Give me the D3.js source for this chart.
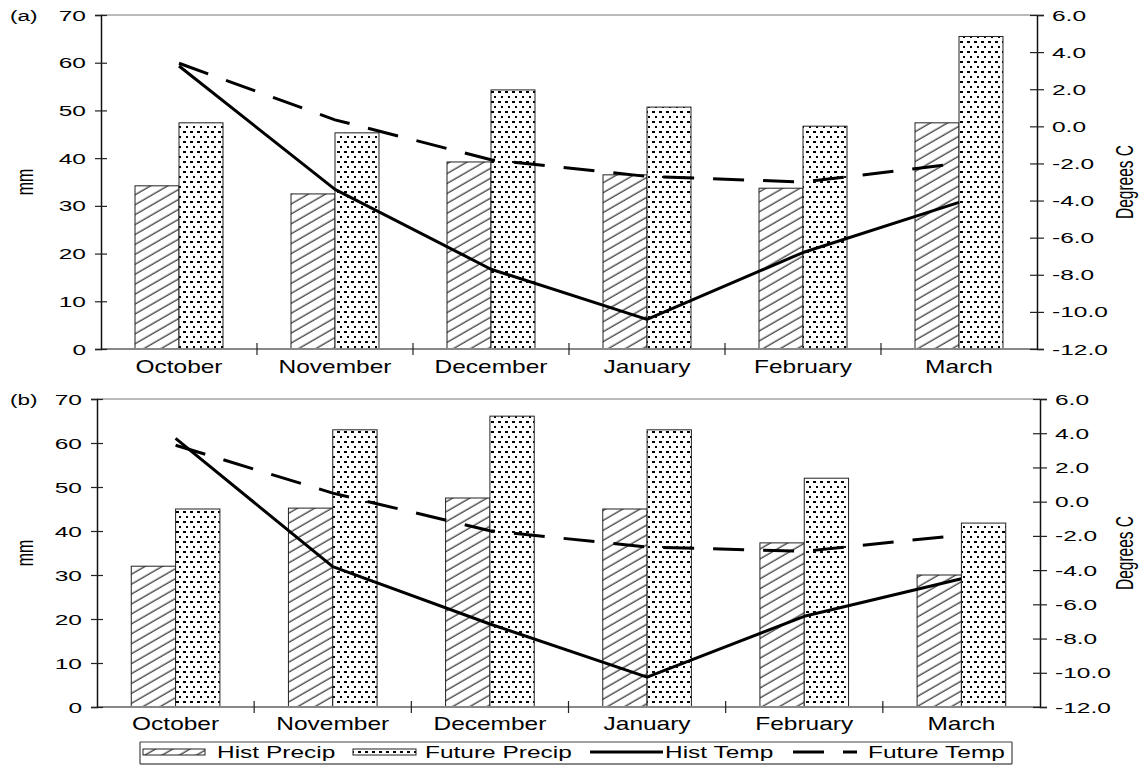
<!DOCTYPE html>
<html>
<head>
<meta charset="utf-8">
<script src="https://cdn.jsdelivr.net/npm/d3@7"></script>
<style>
  body { margin: 0; background: #fff; }
  svg { display: block; font-family: "Liberation Sans", Arial, sans-serif; }
</style>
</head>
<body>
<svg id="chart" width="1143" height="767"></svg>
<script>
'use strict';

// data
var months = ["October", "November", "December", "January", "February", "March"];
var mmTicks = [0, 10, 20, 30, 40, 50, 60, 70];
var tempTicks = [-12, -10, -8, -6, -4, -2, 0, 2, 4, 6];

var histPrecipA = [34.2, 32.5, 39.2, 36.5, 33.7, 47.4];
var futurePrecipA = [47.4, 45.3, 54.3, 50.7, 46.7, 65.5];
var histTempA = [3.25, -3.4, -7.7, -10.4, -6.8, -4.1];
var futureTempA = [3.4, 0.35, -1.8, -2.7, -3.0, -2.0];

var histPrecipB = [32.0, 45.2, 47.5, 45.0, 37.3, 30.0];
var futurePrecipB = [45.0, 63.0, 66.1, 63.0, 52.0, 41.8];
var histTempB = [3.7, -3.8, -7.15, -10.25, -6.7, -4.5];
var futureTempB = [3.3, 0.5, -1.7, -2.65, -2.9, -1.95];

var legendItems = ["Hist Precip", "Future Precip", "Hist Temp", "Future Temp"];

var svg = d3.select("#chart");
var defs = svg.append("defs");

// hatch for historical precip
defs.append("pattern")
    .attr("id", "hatch")
    .attr("patternUnits", "userSpaceOnUse")
    .attr("width", 10).attr("height", 8.6)
    .attr("patternTransform", "rotate(-30)")
  .append("line")
    .attr("x1", 0).attr("x2", 10).attr("y1", 4).attr("y2", 4)
    .attr("stroke", "#000").attr("stroke-width", 1);

// dots for future precip
var dots = defs.append("pattern")
    .attr("id", "dots")
    .attr("patternUnits", "userSpaceOnUse")
    .attr("width", 7).attr("height", 10);
dots.append("rect").attr("width", 7).attr("height", 10).attr("fill", "#fff");
dots.append("rect").attr("x", 1).attr("y", 1).attr("width", 3).attr("height", 2)
    .attr("fill", "#000").attr("shape-rendering", "crispEdges");
dots.append("rect").attr("x", 4).attr("y", 6).attr("width", 2).attr("height", 2)
    .attr("fill", "#000").attr("shape-rendering", "crispEdges");

function stretchedText(g, x, y, str, size, sx, anchor) {
    return g.append("text")
        .attr("transform", "translate(" + x + "," + y + ") scale(" + sx + ",1)")
        .attr("font-size", size)
        .attr("text-anchor", anchor || "start")
        .attr("fill", "#000")
        .text(str);
}

function drawPanel(p) {
    var g = svg.append("g");

    var x = d3.scaleBand().domain(months).range([p.left, p.right]).padding(0);
    var yL = d3.scaleLinear().domain([0, 70]).range([p.bottom, p.top]);
    var yR = d3.scaleLinear().domain([-12, 6]).range([p.bottom, p.top]);
    var barW = x.bandwidth() * 0.282;
    var cx = d => x(d) + x.bandwidth() / 2;

    // top border
    g.append("line")
        .attr("x1", p.left).attr("x2", p.right)
        .attr("y1", p.top).attr("y2", p.top)
        .attr("stroke", "#777").attr("stroke-width", 1.2);

    // bars
    g.selectAll(".hist").data(months).enter().append("rect")
        .attr("x", d => cx(d) - barW)
        .attr("y", (d, i) => yL(p.hist[i]))
        .attr("width", barW)
        .attr("height", (d, i) => p.bottom - yL(p.hist[i]))
        .attr("fill", "url(#hatch)")
        .attr("stroke", "#222").attr("stroke-width", 1);

    g.selectAll(".fut").data(months).enter().append("rect")
        .attr("x", d => cx(d))
        .attr("y", (d, i) => yL(p.fut[i]))
        .attr("width", barW)
        .attr("height", (d, i) => p.bottom - yL(p.fut[i]))
        .attr("fill", "url(#dots)")
        .attr("stroke", "#222").attr("stroke-width", 1);

    // temperature lines
    var line = d3.line().x(d => cx(d.m)).y(d => yR(d.v));
    g.append("path")
        .datum(months.map((m, i) => ({m: m, v: p.histT[i]})))
        .attr("d", line)
        .attr("fill", "none").attr("stroke", "#000").attr("stroke-width", 3)
        .attr("stroke-linejoin", "round");
    g.append("path")
        .datum(months.map((m, i) => ({m: m, v: p.futT[i]})))
        .attr("d", line)
        .attr("fill", "none").attr("stroke", "#000").attr("stroke-width", 3)
        .attr("stroke-dasharray", "31,19");

    // x axis line and category ticks
    g.append("line")
        .attr("x1", p.left).attr("x2", p.right)
        .attr("y1", p.bottom).attr("y2", p.bottom)
        .attr("stroke", "#888").attr("stroke-width", 2);
    g.selectAll(".xtick").data(months.slice(1)).enter().append("line")
        .attr("x1", d => x(d)).attr("x2", d => x(d))
        .attr("y1", p.bottom - 6).attr("y2", p.bottom + 6)
        .attr("stroke", "#222").attr("stroke-width", 1.2);
    months.forEach(function(m) {
        stretchedText(g, cx(m), p.labelY, m, 18, 1.36, "middle");
    });

    // left axis
    var left = g.append("g")
        .attr("transform", "translate(" + p.left + ",0)")
        .call(d3.axisLeft(yL).tickValues(mmTicks).tickSize(6).tickFormat(d => d));
    left.select(".domain").attr("stroke", "#111").attr("stroke-width", 1.5);
    left.selectAll(".tick line").attr("x1", -6).attr("x2", 6).attr("stroke", "#222").attr("stroke-width", 1.2);
    left.selectAll(".tick text")
        .attr("x", null).attr("dy", "0.36em")
        .attr("transform", "translate(-15,0) scale(1.75,1)")
        .attr("font-size", 14).attr("font-family", null).attr("fill", "#000");

    // right axis
    var right = g.append("g")
        .attr("transform", "translate(" + p.right + ",0)")
        .call(d3.axisRight(yR).tickValues(tempTicks).tickSize(7).tickFormat(d => d.toFixed(1)));
    right.select(".domain").attr("stroke", "#111").attr("stroke-width", 1.5);
    right.selectAll(".tick line").attr("x1", -7).attr("x2", 7).attr("stroke", "#222").attr("stroke-width", 1.2);
    right.selectAll(".tick text")
        .attr("x", null).attr("dy", "0.36em")
        .attr("transform", "translate(15,0) scale(1.75,1)")
        .attr("font-size", 14).attr("font-family", null).attr("fill", "#000");

    // axis titles
    var mid = (p.top + p.bottom) / 2;
    g.append("text")
        .attr("transform", "translate(33," + mid + ") scale(1.5,1) rotate(-90)")
        .attr("text-anchor", "middle").attr("font-size", 16).attr("fill", "#000")
        .text("mm");
    g.append("text")
        .attr("transform", "translate(1133," + mid + ") scale(1.5,1) rotate(-90)")
        .attr("text-anchor", "middle").attr("font-size", 15.5).attr("fill", "#000")
        .text("Degrees C");

    stretchedText(g, 10, p.tagY, p.tag, 15, 1.5);
}

drawPanel({tag: "(a)", tagY: 21, left: 101, right: 1037, top: 15, bottom: 349, labelY: 373,
           hist: histPrecipA, fut: futurePrecipA, histT: histTempA, futT: futureTempA});
drawPanel({tag: "(b)", tagY: 405, left: 97, right: 1040, top: 399, bottom: 707, labelY: 730,
           hist: histPrecipB, fut: futurePrecipB, histT: histTempB, futT: futureTempB});

// legend
var lg = svg.append("g");
lg.append("line").attr("x1", 140).attr("x2", 1012).attr("y1", 742).attr("y2", 742)
    .attr("stroke", "#444").attr("stroke-width", 1.2);
lg.append("line").attr("x1", 140).attr("x2", 1012).attr("y1", 764).attr("y2", 764)
    .attr("stroke", "#888").attr("stroke-width", 2);
lg.append("line").attr("x1", 140).attr("x2", 140).attr("y1", 742).attr("y2", 764)
    .attr("stroke", "#444").attr("stroke-width", 1.2);
lg.append("line").attr("x1", 1012).attr("x2", 1012).attr("y1", 742).attr("y2", 764)
    .attr("stroke", "#444").attr("stroke-width", 1.2);

lg.append("rect").attr("x", 143).attr("y", 749).attr("width", 62).attr("height", 6)
    .attr("fill", "url(#hatch)").attr("stroke", "#222").attr("stroke-width", 1);
lg.append("rect").attr("x", 353).attr("y", 749).attr("width", 63).attr("height", 6)
    .attr("fill", "url(#dots)").attr("stroke", "#222").attr("stroke-width", 1);
lg.append("line").attr("x1", 590).attr("x2", 663).attr("y1", 752).attr("y2", 752)
    .attr("stroke", "#000").attr("stroke-width", 3);
lg.append("line").attr("x1", 793).attr("x2", 857).attr("y1", 752).attr("y2", 752)
    .attr("stroke", "#000").attr("stroke-width", 3).attr("stroke-dasharray", "31,19");

var legendX = [217, 425, 665, 868];
legendItems.forEach(function(t, i) {
    stretchedText(lg, legendX[i], 758, t, 17, 1.44);
});
</script>
</body>
</html>
